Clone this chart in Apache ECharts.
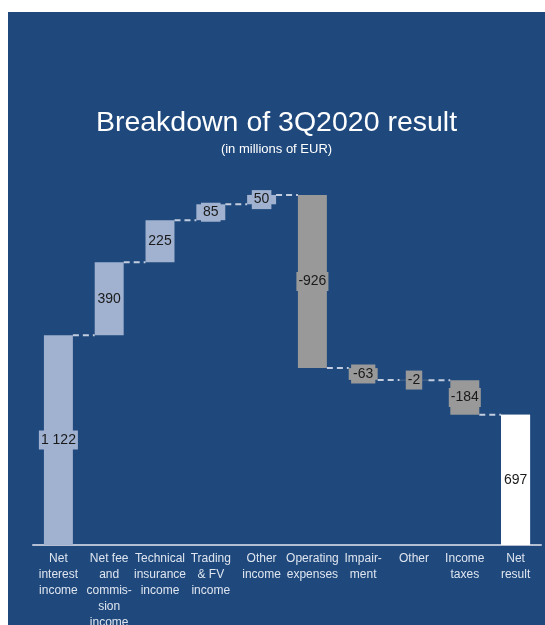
<!DOCTYPE html>
<html><head><meta charset="utf-8">
<script src="https://cdn.jsdelivr.net/npm/echarts@6/dist/echarts.min.js"></script>
<style>
html,body{margin:0;padding:0;background:#fff;width:545px;height:625px;overflow:hidden}
#c{position:absolute;left:8px;top:12px;width:537px;height:613px}
</style></head><body>
<div id="c"></div>
<script>
const categories = ['Net\ninterest\nincome','Net fee\nand\ncommis-\nsion\nincome','Technical\ninsurance\nincome','Trading\n& FV\nincome','Other\nincome','Operating\nexpenses','Impair-\nment','Other','Income\ntaxes','Net\nresult'];
const values = [1122, 390, 225, 85, 50, -926, -63, -2, -184, 697];
const isTotal = [false,false,false,false,false,false,false,false,false,true];

const POS = '#a0b2d0', NEG = '#999999', TOT = '#ffffff';
const base = [], heights = [], levels = [];
let cum = 0;
values.forEach((v,i)=>{
  if (isTotal[i]) { base.push(0); heights.push({value:v, itemStyle:{color:TOT}, label:{show:false}}); levels.push(v); return; }
  const s = cum, e = cum + v;
  base.push(Math.min(s,e));
  heights.push({value:Math.abs(v), itemStyle:{color: v>=0?POS:NEG}, label:{backgroundColor: v>=0?POS:NEG}});
  cum = e; levels.push(e);
});
const fmt = v => { const s = String(Math.abs(v)).replace(/\B(?=(\d{3})+(?!\d))/g,' '); return (v<0?'-':'')+s; };
const connectors = levels.slice(0,-1).map((l,i)=>[i,l]);
const BW = 0.57;
const FF = 'Liberation Sans, Arial';

const chart = echarts.init(document.getElementById('c'));
chart.setOption({
  backgroundColor:'#1f497d',
  animation:false,
  title:[
    {text:'Breakdown of 3Q2020 result', left:'center', top:92, textStyle:{color:'#fff', fontSize:28.5, fontWeight:'normal', fontFamily:FF}},
    {text:'(in millions of EUR)', left:'center', top:126, textStyle:{color:'#fff', fontSize:13, fontWeight:'normal', fontFamily:FF}}
  ],
  grid:{left:25, right:4, top:159, bottom:80, containLabel:false, outerBoundsMode:'none'},
  xAxis:{type:'category', data:categories, axisTick:{show:false},
    axisLine:{lineStyle:{color:'#b4bfd3', width:2}},
    axisLabel:{interval:0, color:'#dfe5ef', fontSize:12, lineHeight:16, margin:6, fontFamily:FF}},
  yAxis:{type:'value', min:0, max:2000, show:false, splitLine:{show:false}},
  series:[
    {type:'bar', stack:'w', data:base, itemStyle:{color:'transparent'}, barWidth:(BW*100)+'%', silent:true},
    {type:'bar', stack:'w', data:heights, barWidth:(BW*100)+'%',
      label:{show:true, position:'inside', color:'#1a1a1a', fontSize:14, fontFamily:FF, padding:[3,2,2,2],
        formatter:p=>fmt(values[p.dataIndex])}},
    {type:'custom', data:connectors, z:1,
      renderItem:(params, api)=>{
        const i = api.value(0), l = api.value(1);
        const p = api.coord([i,l]);
        const bw = api.size([1,0])[0];
        const x1 = p[0] + bw*BW/2, x2 = p[0] + bw - bw*BW/2;
        return {type:'line', shape:{x1:x1, y1:p[1], x2:x2, y2:p[1]},
          style:{stroke:'#c3cde0', lineWidth:2, lineDash:[6,4]}};
      }},
    {type:'bar', data:values.map((v,i)=>isTotal[i]?v:null), barGap:'-100%', barWidth:(BW*100)+'%', itemStyle:{color:TOT}, z:3,
      label:{show:true, position:'inside', color:'#1a1a1a', fontSize:14, fontFamily:FF}}
  ]
});
</script></body></html>
